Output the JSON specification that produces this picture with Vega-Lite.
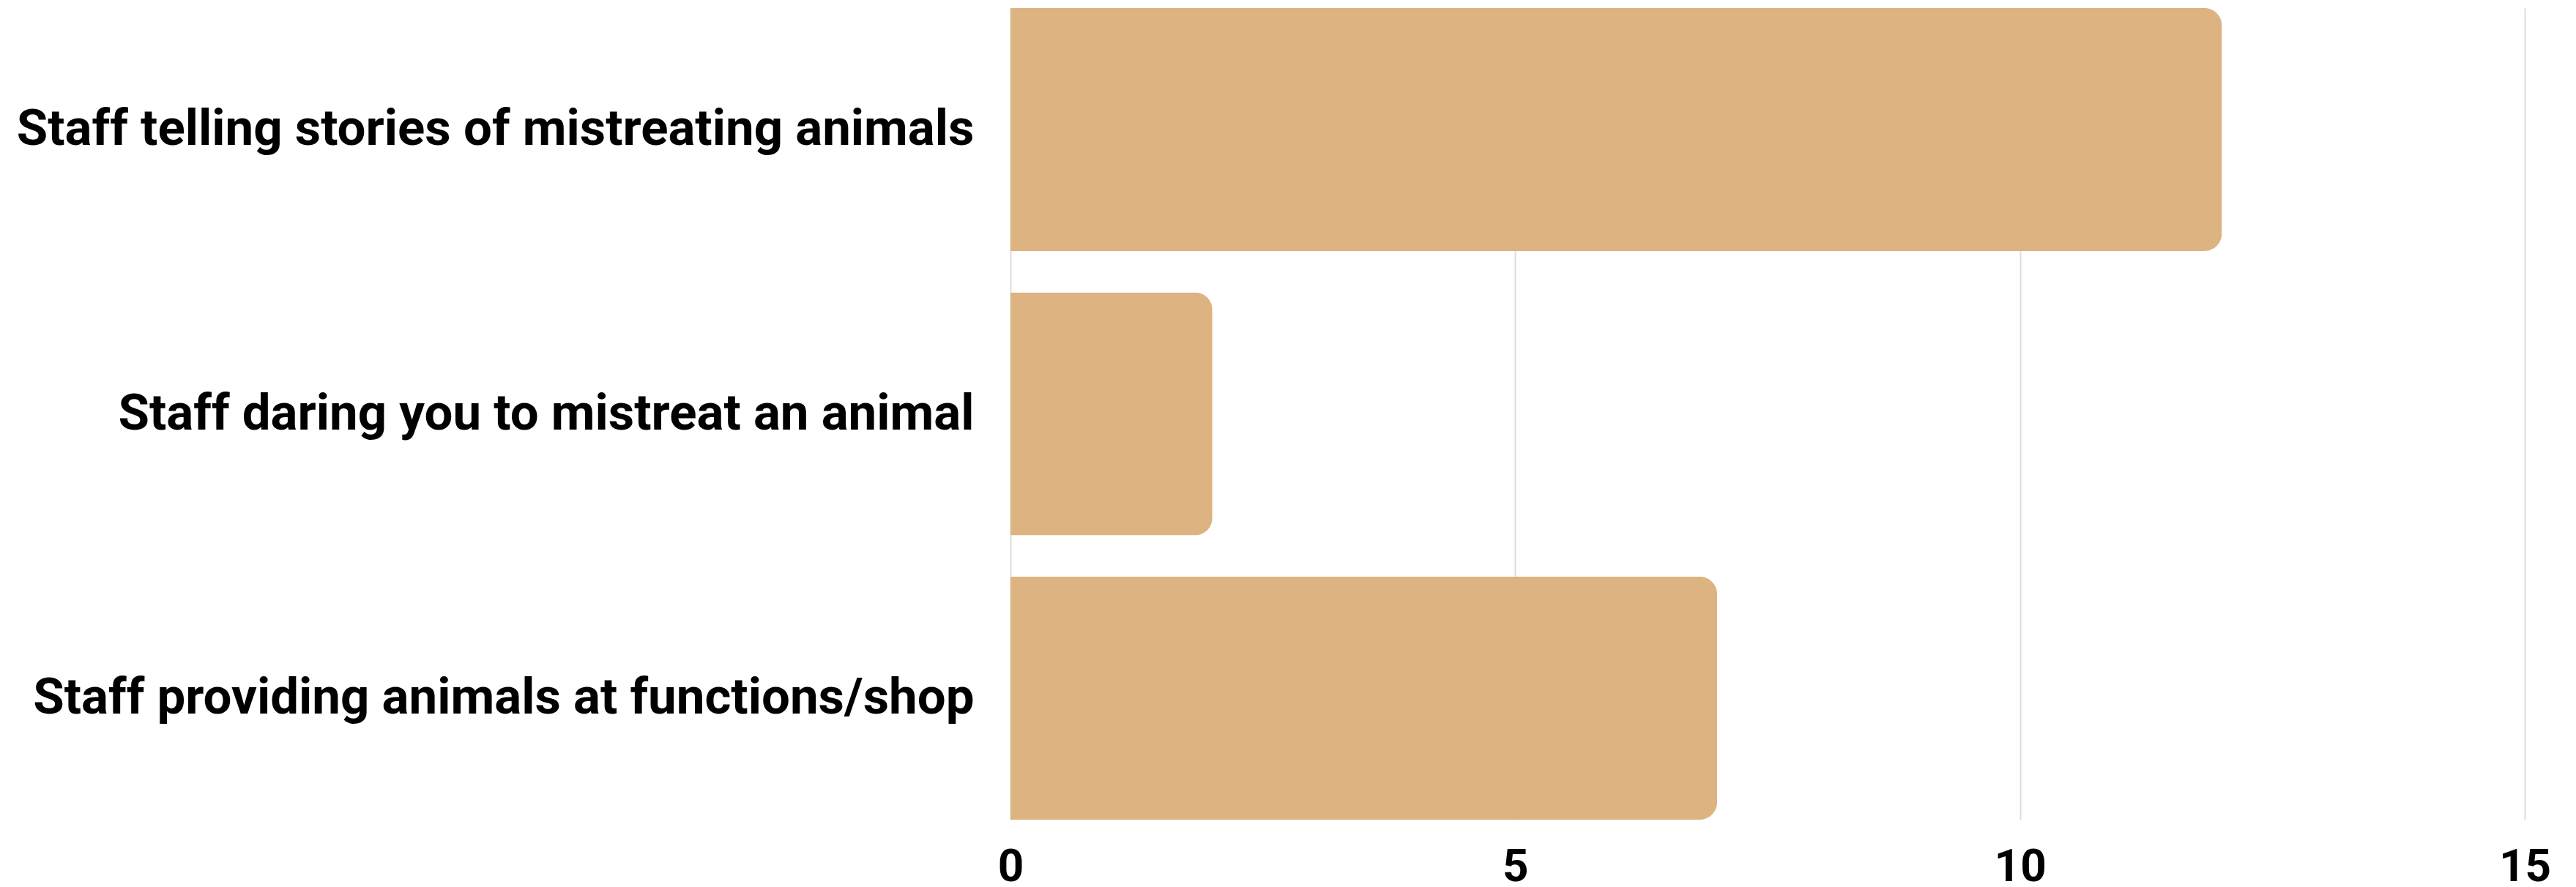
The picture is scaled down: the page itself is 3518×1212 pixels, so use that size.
{
  "$schema": "https://vega.github.io/schema/vega-lite/v6.json",
  "autosize": {"type": "none"},
  "width": 2068,
  "height": 1109,
  "padding": {"left": 1380, "top": 11, "right": 70, "bottom": 92},
  "background": "white",
  "data": {
    "values": [
      {"category": "Staff telling stories of mistreating animals", "count": 12},
      {"category": "Staff daring you to mistreat an animal", "count": 2},
      {"category": "Staff providing animals at functions/shop", "count": 7}
    ]
  },
  "mark": {"type": "bar", "color": "#DDB381", "cornerRadiusEnd": 24},
  "encoding": {
    "y": {
      "field": "category",
      "type": "nominal",
      "sort": null,
      "scale": {"paddingInner": 0.145, "paddingOuter": 0},
      "axis": {
        "title": null,
        "domain": false,
        "ticks": false,
        "labelFont": "Roboto",
        "labelFontWeight": "bold",
        "labelFontSize": 69,
        "labelColor": "#000000",
        "labelPadding": 50,
        "labelLimit": 2000
      }
    },
    "x": {
      "field": "count",
      "type": "quantitative",
      "scale": {"domain": [0, 15], "nice": false},
      "axis": {
        "title": null,
        "values": [0, 5, 10, 15],
        "domain": false,
        "ticks": false,
        "grid": true,
        "gridColor": "#dddddd",
        "gridWidth": 2,
        "labelFont": "Roboto",
        "labelFontWeight": "bold",
        "labelFontSize": 62,
        "labelColor": "#000000",
        "labelBaseline": "middle",
        "labelPadding": 64,
        "labelFlush": false
      }
    }
  },
  "config": {"view": {"stroke": null}}
}
